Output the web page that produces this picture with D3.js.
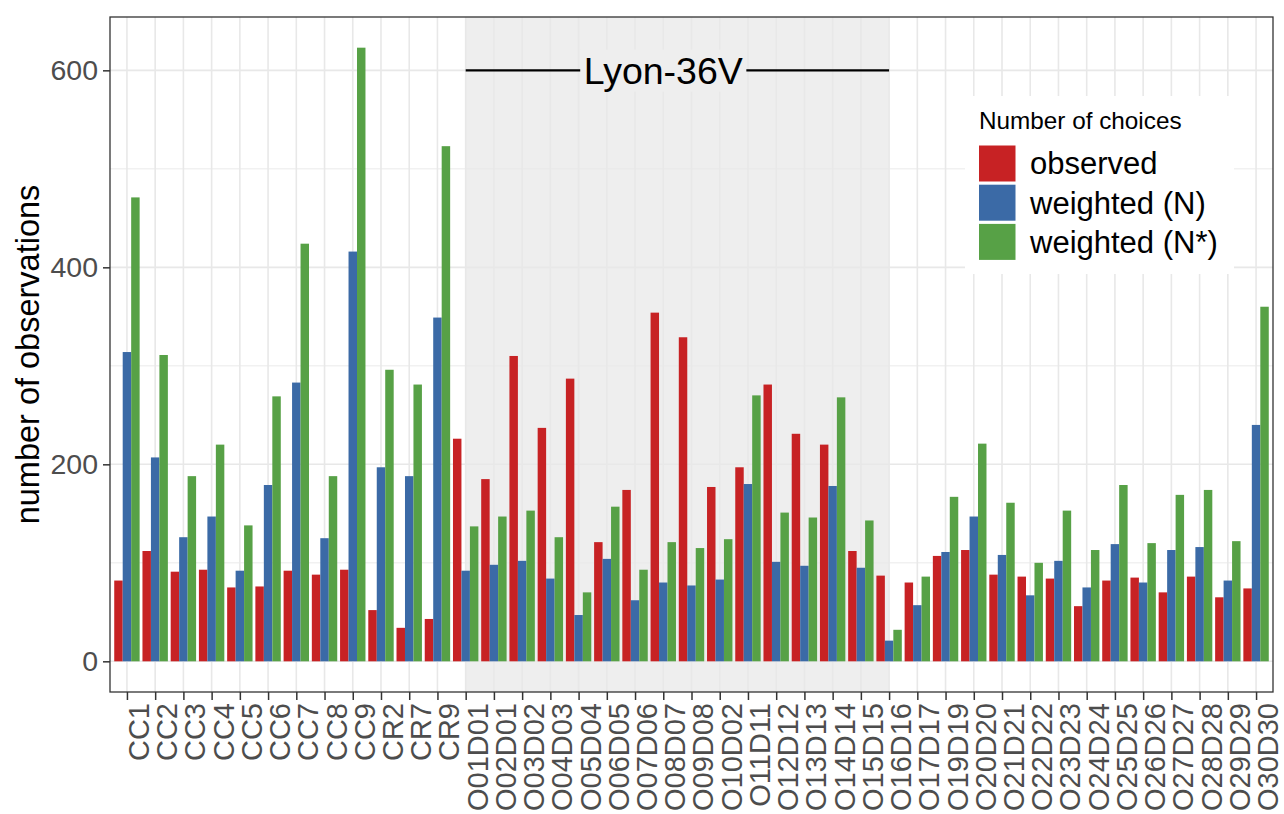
<!DOCTYPE html>
<html>
<head>
<meta charset="utf-8">
<script src="https://cdn.jsdelivr.net/npm/d3@7"></script>
<style>
  html, body { margin: 0; padding: 0; background: #ffffff; }
  svg { display: block; font-family: "Liberation Sans", Arial, Helvetica, sans-serif; }
</style>
</head>
<body>
<svg id="chart" width="1284" height="814"></svg>
<script>
// Route / station codes along the x axis
const categories = [
  "CC1", "CC2", "CC3", "CC4", "CC5", "CC6", "CC7", "CC8", "CC9", "CR2", "CR7", "CR9",
  "O01D01", "O02D01", "O03D02", "O04D03", "O05D04", "O06D05", "O07D06", "O08D07",
  "O09D08", "O10D02", "O11D11", "O12D12", "O13D13", "O14D14", "O15D15", "O16D16",
  "O17D17", "O19D19", "O20D20", "O21D21", "O22D22", "O23D23", "O24D24", "O25D25",
  "O26D26", "O27D27", "O28D28", "O29D29", "O30D30"
];

// Number of choices per category
const observed = [
  82, 112, 91, 93, 75, 76, 92, 88, 93, 52, 34, 43,
  226, 185, 310, 237, 287, 121, 174, 354, 329, 177, 197, 281, 231, 220, 112, 87,
  80, 107, 113, 88, 86, 84, 56, 82, 85, 70, 86, 65, 74
];
const weightedN = [
  314, 207, 126, 147, 92, 179, 283, 125, 416, 197, 188, 349,
  92, 98, 102, 84, 47, 104, 62, 80, 77, 83, 180, 101, 97, 178, 95, 21,
  57, 111, 147, 108, 67, 102, 75, 119, 80, 113, 116, 82, 240
];
const weightedNstar = [
  471, 311, 188, 220, 138, 269, 424, 188, 623, 296, 281, 523,
  137, 147, 153, 126, 70, 157, 93, 121, 115, 124, 270, 151, 146, 268, 143, 32,
  86, 167, 221, 161, 100, 153, 113, 179, 120, 169, 174, 122, 360
];

const seriesNames = ["observed", "weighted (N)", "weighted (N*)"];
const seriesColors = ["#c72224", "#3b6aa6", "#57a146"];
const seriesValues = [observed, weightedN, weightedNstar];

const yMajorTicks = [0, 200, 400, 600];
const yMinorTicks = [100, 300, 500];

// Highlighted block of categories
const regionStart = "O01D01";
const regionEnd = "O16D16";
const regionLabelAt = "O08D07";
const regionLabel = "Lyon-36V";
const regionValue = 600;

const legendTitle = "Number of choices";
const yTitle = "number of observations";

// ---- layout ----
const svg = d3.select("#chart");
const panel = { left: 110, right: 1273, top: 17, bottom: 692 };

const x = d3.scalePoint()
  .domain(categories)
  .range([panel.left, panel.right])
  .padding(0.6);
const step = x.step();
const barW = step * 0.9 / 3;

const maxVal = d3.max(seriesValues.flat());
const y = d3.scaleLinear()
  .domain([-0.05 * maxVal, 1.05 * maxVal])
  .range([panel.bottom, panel.top]);

svg.append("rect").attr("width", 1284).attr("height", 814).attr("fill", "#ffffff");

// panel background
svg.append("rect")
  .attr("x", panel.left).attr("y", panel.top)
  .attr("width", panel.right - panel.left).attr("height", panel.bottom - panel.top)
  .attr("fill", "#ffffff");

// shaded region
svg.append("rect")
  .attr("x", x(regionStart)).attr("y", panel.top)
  .attr("width", x(regionEnd) - x(regionStart))
  .attr("height", panel.bottom - panel.top)
  .attr("fill", "#eeeeee");

// grid
const grid = svg.append("g");
grid.selectAll("line.minor").data(yMinorTicks).join("line")
  .attr("x1", panel.left).attr("x2", panel.right)
  .attr("y1", d => y(d)).attr("y2", d => y(d))
  .attr("stroke", "#e8e8e8").attr("stroke-width", 0.9);
grid.selectAll("line.majory").data(yMajorTicks).join("line")
  .attr("x1", panel.left).attr("x2", panel.right)
  .attr("y1", d => y(d)).attr("y2", d => y(d))
  .attr("stroke", "#e8e8e8").attr("stroke-width", 1.6);
grid.selectAll("line.majorx").data(categories).join("line")
  .attr("x1", d => x(d)).attr("x2", d => x(d))
  .attr("y1", panel.top).attr("y2", panel.bottom)
  .attr("stroke", "#e8e8e8").attr("stroke-width", 1.6);

// bars (dodged)
const bars = svg.append("g");
seriesValues.forEach((vals, k) => {
  bars.selectAll(null).data(vals.map((v, i) => ({ cat: categories[i], v })))
    .join("rect")
    .attr("x", d => x(d.cat) - 1.5 * barW + k * barW)
    .attr("width", barW)
    .attr("y", d => y(d.v))
    .attr("height", d => y(0) - y(d.v))
    .attr("fill", seriesColors[k]);
});

// region annotation line with label
const ann = svg.append("g");
ann.append("line")
  .attr("x1", x(regionStart)).attr("x2", x(regionEnd))
  .attr("y1", y(regionValue)).attr("y2", y(regionValue))
  .attr("stroke", "#000000").attr("stroke-width", 2.2);
const labelBg = ann.append("rect").attr("fill", "#eeeeee");
const labelText = ann.append("text")
  .attr("x", x(regionLabelAt)).attr("y", y(regionValue))
  .attr("dy", "0.355em")
  .attr("text-anchor", "middle")
  .attr("font-size", 37.5)
  .attr("fill", "#000000")
  .text(regionLabel);
const bb = labelText.node().getBBox();
labelBg.attr("x", bb.x - 3.5).attr("y", bb.y).attr("width", bb.width + 7).attr("height", bb.height);

// panel border
svg.append("rect")
  .attr("x", panel.left).attr("y", panel.top)
  .attr("width", panel.right - panel.left).attr("height", panel.bottom - panel.top)
  .attr("fill", "none").attr("stroke", "#333333").attr("stroke-width", 1.3);

// y axis
const yAxis = svg.append("g")
  .attr("transform", `translate(${panel.left},0)`)
  .call(d3.axisLeft(y).tickValues(yMajorTicks).tickSize(7).tickPadding(5).tickFormat(d3.format("d")));
yAxis.select(".domain").remove();
yAxis.selectAll(".tick line").attr("stroke", "#333333").attr("stroke-width", 1.5);
yAxis.selectAll(".tick text")
  .attr("fill", "#4d4d4d").attr("font-size", 28.5)
  .attr("font-family", "Liberation Sans, Arial, sans-serif");

// x axis
const xAxis = svg.append("g")
  .attr("transform", `translate(0,${panel.bottom})`)
  .call(d3.axisBottom(x).tickSize(8).tickPadding(0));
xAxis.select(".domain").remove();
xAxis.selectAll(".tick line").attr("stroke", "#333333").attr("stroke-width", 1.5);
xAxis.selectAll(".tick text")
  .attr("fill", "#4d4d4d").attr("font-size", 29)
  .attr("font-family", "Liberation Sans, Arial, sans-serif")
  .attr("text-anchor", "end")
  .attr("transform", "translate(0,11) rotate(-90)")
  .attr("x", 0).attr("y", 0)
  .attr("dy", "0.74em");

// y axis title
svg.append("text")
  .attr("transform", `translate(28,${(panel.top + panel.bottom) / 2}) rotate(-90)`)
  .attr("dy", "0.35em")
  .attr("text-anchor", "middle")
  .attr("font-size", 32.5)
  .attr("fill", "#000000")
  .text(yTitle);

// legend
const legend = svg.append("g");
legend.append("rect")
  .attr("x", 965).attr("y", 96).attr("width", 269).attr("height", 178)
  .attr("fill", "#ffffff");
legend.append("text")
  .attr("x", 979).attr("y", 129)
  .attr("font-size", 24.3).attr("fill", "#000000")
  .text(legendTitle);
seriesNames.forEach((name, k) => {
  const ky = 145.5 + k * 39.2;
  legend.append("rect")
    .attr("x", 979).attr("y", ky).attr("width", 36.5).attr("height", 36)
    .attr("fill", seriesColors[k]);
  legend.append("text")
    .attr("x", 1030).attr("y", ky + 18)
    .attr("dy", "0.35em")
    .attr("font-size", 31).attr("fill", "#000000")
    .text(name);
});
</script>
</body>
</html>
